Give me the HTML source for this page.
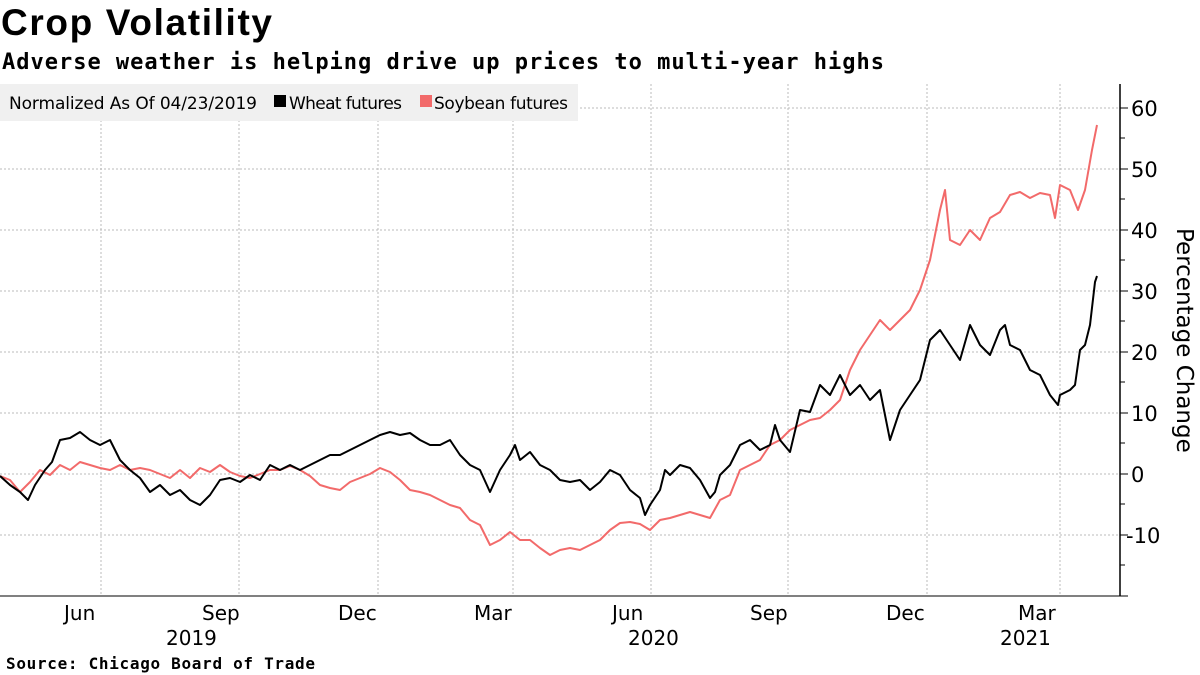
<!DOCTYPE html>
<html><head><style>
body{margin:0;width:1200px;height:675px;background:#fff;overflow:hidden;font-family:"Liberation Sans","DejaVu Sans",sans-serif}
</style></head><body>
<svg width="1200" height="675" xmlns="http://www.w3.org/2000/svg" style="position:absolute;left:0;top:0">
<text x="1" y="35" font-size="37" font-weight="bold" fill="#000" font-family="Liberation Sans, sans-serif" textLength="271">Crop Volatility</text>
<text x="2" y="69" font-size="22" font-weight="bold" fill="#000" font-family="DejaVu Sans Mono, Liberation Mono, monospace" textLength="882">Adverse weather is helping drive up prices to multi-year highs</text>
<g stroke="#bbb" stroke-dasharray="2,2" stroke-width="1">
<line x1="0" x2="1120" y1="108" y2="108"/><line x1="0" x2="1120" y1="169" y2="169"/><line x1="0" x2="1120" y1="230" y2="230"/><line x1="0" x2="1120" y1="291" y2="291"/><line x1="0" x2="1120" y1="352" y2="352"/><line x1="0" x2="1120" y1="413" y2="413"/><line x1="0" x2="1120" y1="474" y2="474"/><line x1="0" x2="1120" y1="535" y2="535"/>
<line x1="101" x2="101" y1="84" y2="596"/><line x1="239" x2="239" y1="84" y2="596"/><line x1="378" x2="378" y1="84" y2="596"/><line x1="513" x2="513" y1="84" y2="596"/><line x1="651" x2="651" y1="84" y2="596"/><line x1="788" x2="788" y1="84" y2="596"/><line x1="927" x2="927" y1="84" y2="596"/><line x1="1060" x2="1060" y1="84" y2="596"/>
</g>
<rect x="0" y="84" width="578" height="37" fill="#f0f0f0"/>
<text x="9" y="109" font-size="17" fill="#000" font-family="DejaVu Sans, sans-serif" textLength="248">Normalized As Of 04/23/2019</text>
<rect x="274" y="95" width="12" height="12" fill="#000"/>
<text x="289" y="109" font-size="17" fill="#000" font-family="DejaVu Sans, sans-serif" textLength="113">Wheat futures</text>
<rect x="420" y="95" width="12" height="12" fill="#f26a6a"/>
<text x="434" y="109" font-size="17" fill="#000" font-family="DejaVu Sans, sans-serif" textLength="134">Soybean futures</text>
<line x1="0" x2="1120" y1="596" y2="596" stroke="#000"/>
<line x1="1120" x2="1120" y1="84" y2="596" stroke="#000" stroke-width="1.5"/>
<g stroke="#000">
<line x1="1120" x2="1128" y1="108" y2="108"/><line x1="1120" x2="1128" y1="169" y2="169"/><line x1="1120" x2="1128" y1="230" y2="230"/><line x1="1120" x2="1128" y1="291" y2="291"/><line x1="1120" x2="1128" y1="352" y2="352"/><line x1="1120" x2="1128" y1="413" y2="413"/><line x1="1120" x2="1128" y1="474" y2="474"/><line x1="1120" x2="1128" y1="535" y2="535"/><line x1="1120" x2="1128" y1="596" y2="596"/>
<line x1="1120" x2="1125" y1="138" y2="138"/><line x1="1120" x2="1125" y1="199" y2="199"/><line x1="1120" x2="1125" y1="260" y2="260"/><line x1="1120" x2="1125" y1="321" y2="321"/><line x1="1120" x2="1125" y1="382" y2="382"/><line x1="1120" x2="1125" y1="443" y2="443"/><line x1="1120" x2="1125" y1="504" y2="504"/><line x1="1120" x2="1125" y1="565" y2="565"/>
</g>
<g font-size="21" fill="#000" font-family="DejaVu Sans, sans-serif">
<text x="1131" y="116">60</text><text x="1131" y="177">50</text><text x="1131" y="238">40</text><text x="1131" y="299">30</text><text x="1131" y="360">20</text><text x="1131" y="421">10</text><text x="1131" y="482">0</text><text x="1126" y="543">-10</text>
</g>
<g font-size="20" fill="#000" font-family="DejaVu Sans, sans-serif">
<text x="64" y="620">Jun</text><text x="202" y="620">Sep</text><text x="338" y="620">Dec</text><text x="474" y="620">Mar</text><text x="612" y="620">Jun</text><text x="750" y="620">Sep</text><text x="886" y="620">Dec</text><text x="1018" y="620">Mar</text>
<text x="166" y="645">2019</text><text x="628" y="645">2020</text><text x="1000" y="645">2021</text>
</g>
<text transform="translate(1177,228) rotate(90)" font-size="23" fill="#000" font-family="DejaVu Sans, sans-serif">Percentage Change</text>
<polyline fill="none" stroke="#f26a6a" stroke-width="2" stroke-linejoin="round" points="0,476 10,480 20,492 30,482 40,470 50,475 60,465 70,470 80,462 90,465 100,468 110,470 120,465 130,470 140,468 150,470 160,474 170,478 180,470 190,478 200,468 210,472 220,465 230,472 240,476 250,478 260,474 270,470 280,470 290,466 300,470 310,476 320,485 330,488 340,490 350,482 360,478 370,474 380,468 390,472 400,480 410,490 420,492 430,495 440,500 450,505 460,508 470,520 480,525 490,545 500,540 510,532 520,540 530,540 540,548 550,555 560,550 570,548 580,550 590,545 600,540 610,530 620,523 630,522 640,524 650,530 660,520 670,518 680,515 690,512 700,515 710,518 720,500 730,495 740,470 750,465 760,460 770,445 780,440 790,430 800,425 810,420 820,418 830,410 840,400 850,370 860,350 870,335 880,320 890,330 900,320 910,310 920,290 930,260 935,235 940,210 945,190 950,240 960,245 970,230 980,240 990,218 1000,212 1010,195 1020,192 1030,198 1040,193 1050,195 1055,218 1060,185 1070,190 1078,210 1085,190 1092,150 1097,125"/>
<polyline fill="none" stroke="#000" stroke-width="2" stroke-linejoin="round" points="0,476 10,485 20,492 28,500 35,485 45,470 52,462 60,440 70,438 80,432 90,440 100,445 110,440 120,460 130,470 140,478 150,492 160,485 170,495 180,490 190,500 200,505 210,495 220,480 230,478 240,482 250,475 260,480 270,465 280,470 290,465 300,470 310,465 320,460 330,455 340,455 350,450 360,445 370,440 380,435 390,432 400,435 410,433 420,440 430,445 440,445 450,440 460,455 470,465 480,470 490,492 500,470 510,455 515,445 520,460 530,452 540,465 550,470 560,480 570,482 580,480 590,490 600,482 610,470 620,475 630,490 640,498 645,515 650,505 660,490 665,470 670,475 680,465 690,468 700,480 710,498 715,492 720,475 730,465 740,445 750,440 760,450 770,445 775,425 780,440 790,452 800,410 810,412 820,385 830,395 840,375 850,395 860,385 870,400 880,390 890,440 900,410 910,395 920,380 930,340 940,330 950,345 960,360 970,325 980,345 990,355 1000,330 1005,325 1010,345 1020,350 1030,370 1040,375 1050,395 1058,405 1060,395 1070,390 1075,385 1080,350 1085,345 1090,325 1095,282 1097,276"/>
<text x="6" y="669" font-size="16" font-weight="bold" fill="#000" font-family="DejaVu Sans Mono, Liberation Mono, monospace" textLength="309">Source: Chicago Board of Trade</text>
</svg>
</body></html>
